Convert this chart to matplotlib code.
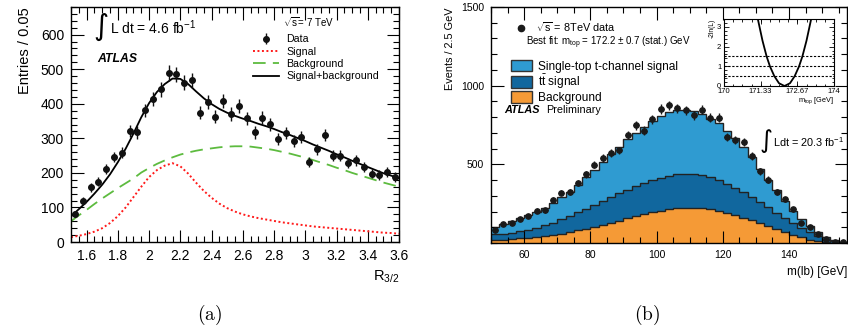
import numpy as np
import matplotlib
matplotlib.use("Agg")
import matplotlib.pyplot as plt
from matplotlib.lines import Line2D
from matplotlib.patches import Patch
from matplotlib.ticker import MultipleLocator

plt.rcParams['font.family'] = ['Liberation Sans', 'DejaVu Sans']
plt.rcParams['mathtext.fontset'] = 'custom'
plt.rcParams['mathtext.rm'] = 'Liberation Sans'
plt.rcParams['mathtext.it'] = 'Liberation Sans:italic'
plt.rcParams['mathtext.bf'] = 'Liberation Sans:bold'

# ---- panel (a): R_3/2 fit ----
r_bins = np.linspace(1.525, 3.575, 42)
r_data = [80, 120, 158, 174, 210, 246, 258, 322, 317, 381, 414, 442, 489, 485,
          461, 468, 374, 404, 362, 409, 370, 393, 358, 317, 360, 341, 298, 316,
          292, 304, 231, 268, 309, 249, 249, 228, 236, 218, 198, 194, 202, 188]

r_curve = np.linspace(1.5, 3.6, 43)
sig_curve = [14, 18, 23, 30, 40, 55, 75, 100, 130, 160, 188, 208, 221, 228, 219,
             198, 172, 148, 128, 111, 98, 88, 80, 74, 69, 65, 61, 57, 54, 51, 48,
             45, 43, 41, 39, 37, 35, 33, 31, 29, 27, 26, 24]
bkg_curve = [60, 77, 93, 110, 126, 141, 156, 170, 184, 201, 214, 226, 236, 245, 253,
             259, 264, 268, 271, 274, 276, 277, 277, 276, 273, 270, 266, 261, 256,
             250, 244, 237, 230, 223, 215, 208, 200, 193, 186, 179, 172, 166, 160]

# ---- panel (b): m(lb) template fit ----
mlb_edges = np.arange(50, 157.6, 2.5)
mlb_data = [82, 119, 126, 151, 170, 205, 208, 274, 320, 323, 380, 436, 497, 540,
            573, 589, 687, 748, 715, 785, 852, 876, 856, 844, 813, 847, 796, 795,
            673, 652, 641, 554, 456, 403, 325, 278, 213, 125, 99, 57, 25, 8, 8]
stack_total = [100, 122, 140, 156, 176, 200, 222, 252, 292, 325, 368, 420, 466, 515,
               565, 612, 660, 700, 740, 775, 810, 835, 845, 848, 840, 818, 790, 760,
               712, 668, 610, 545, 470, 400, 335, 270, 205, 150, 105, 68, 38, 18, 8]
stack_ttbar = [55, 60, 66, 75, 85, 97, 112, 130, 150, 172, 195, 218, 242, 265,
               290, 315, 340, 360, 380, 398, 415, 428, 437, 441, 440, 432, 418, 400,
               378, 352, 325, 295, 262, 228, 192, 158, 125, 95, 68, 42, 22, 10, 4]
stack_bkg = [20, 22, 25, 29, 33, 38, 44, 52, 60, 70, 80, 92, 104, 116,
             129, 142, 156, 170, 183, 195, 206, 215, 221, 224, 224, 220, 213, 203,
             192, 178, 162, 146, 128, 110, 90, 70, 50, 35, 22, 13, 7, 3, 1]

mtop_scan = [171.23, 171.40, 171.55, 171.67, 171.83, 172.0, 172.2, 172.4, 172.57,
             172.73, 172.85, 173.0, 173.17]
nll_scan = [3.4, 2.3, 1.5, 1.0, 0.5, 0.14, 0.0, 0.14, 0.5, 1.0, 1.5, 2.3, 3.4]

c_light = '#2f9bd1'
c_dark = '#11679e'
c_orange = '#f59a36'


def root_ticks(ax, size_major=8, size_minor=4):
    ax.tick_params(which='both', direction='in', top=True, right=True, width=0.8)
    ax.tick_params(which='major', length=size_major)
    ax.tick_params(which='minor', length=size_minor)
    for s in ax.spines.values():
        s.set_linewidth(1.0)


def fx(px):
    return px / 848


def fy(py):
    return 1 - py / 332


fig = plt.figure(figsize=(8.48, 3.32), dpi=100)

# ---------------- (a) ----------------
ax1 = fig.add_axes([fx(71), fy(242), 328 / 848, 235 / 332])
sb = np.array(sig_curve) + np.array(bkg_curve)
ax1.plot(r_curve, sig_curve, color='#ff1a1a', ls=(0, (1, 1.3)), lw=1.4, label='Signal')
ax1.plot(r_curve, bkg_curve, color='#5dbb3f', ls=(0, (7, 4)), lw=1.3, label='Background')
ax1.plot(r_curve, sb, color='black', lw=1.3, label='Signal+background')
ax1.errorbar(r_bins, r_data, yerr=np.sqrt(r_data), fmt='o', color='#111111', ms=4,
             elinewidth=1.0, capsize=0, label='Data')
ax1.set_xlim(1.5, 3.6)
ax1.set_ylim(0, 680)
ax1.xaxis.set_minor_locator(MultipleLocator(0.05))
ax1.yaxis.set_major_locator(MultipleLocator(100))
ax1.yaxis.set_minor_locator(MultipleLocator(20))
ax1.set_xticks([1.6, 1.8, 2, 2.2, 2.4, 2.6, 2.8, 3, 3.2, 3.4, 3.6])
ax1.set_xticklabels(['1.6', '1.8', '2', '2.2', '2.4', '2.6', '2.8', '3', '3.2', '3.4', '3.6'])
root_ticks(ax1, 9, 4.5)
ax1.tick_params(labelsize=10, pad=5)
ax1.set_ylabel('Entries / 0.05', fontsize=10.5, loc='top', labelpad=6)
ax1.set_xlabel('R$_{3/2}$', fontsize=10.5, loc='right', labelpad=4)

fig.text(fx(93), fy(27), '\u222b', fontsize=21, va='center', family='DejaVu Sans')
fig.text(fx(110), fy(28), r'L dt = 4.6 fb$^{-1}$', fontsize=10, va='center')
fig.text(fx(97), fy(59), 'ATLAS', fontsize=8.8, fontweight='bold',
         fontstyle='italic', va='center')
fig.text(fx(283), fy(22), r'$\sqrt{\mathrm{s}}$= 7 TeV', fontsize=7, va='center')

h = ax1.get_legend_handles_labels()
order = [3, 0, 1, 2]
ax1.legend([h[0][i] for i in order], [h[1][i] for i in order], frameon=False,
           fontsize=7.7, loc='upper left', bbox_to_anchor=(fx(248), fy(29)),
           bbox_transform=fig.transFigure, handlelength=2.4, handletextpad=0.7,
           labelspacing=0.22, borderpad=0)

fig.text(fx(210), fy(315), r'$\mathrm{(a)}$', fontsize=14, ha='center',
         va='center', math_fontfamily='cm')

# ---------------- (b) ----------------
ax2 = fig.add_axes([fx(491), fy(243), 356 / 848, 236 / 332])
ax2.stairs(stack_total, mlb_edges, fill=True, color=c_light, lw=0)
ax2.stairs(stack_total, mlb_edges, color='#222222', lw=1.0, baseline=None)
ax2.stairs(stack_ttbar, mlb_edges, fill=True, color=c_dark, lw=0)
ax2.stairs(stack_ttbar, mlb_edges, color='#222222', lw=1.0, baseline=None)
ax2.stairs(stack_bkg, mlb_edges, fill=True, color=c_orange, lw=0)
ax2.stairs(stack_bkg, mlb_edges, color='#222222', lw=1.0, baseline=None)
centers = (mlb_edges[:-1] + mlb_edges[1:]) / 2
ax2.errorbar(centers, mlb_data, yerr=np.sqrt(mlb_data), xerr=0.9, fmt='o',
             color='#1a1a1a', ms=3.8, elinewidth=1.0, capsize=0)
ax2.set_xlim(50, 157.5)
ax2.set_ylim(0, 1500)
ax2.set_xticks([60, 80, 100, 120, 140])
ax2.xaxis.set_minor_locator(MultipleLocator(5))
ax2.set_yticks([500, 1000, 1500])
ax2.yaxis.set_minor_locator(MultipleLocator(100))
root_ticks(ax2, 9, 4.5)
ax2.tick_params(labelsize=7.5, pad=5)
ax2.set_ylabel('Events / 2.5 GeV', fontsize=7.8, loc='top', labelpad=4)
ax2.set_xlabel('m(lb) [GeV]', fontsize=8.5, loc='right', labelpad=4)

leg_d = ax2.legend([Line2D([], [], ls='none', marker='o', color='#1a1a1a', ms=4.5)],
                   [r'$\sqrt{\mathrm{s}}$ = 8TeV data'], frameon=False, fontsize=7.8,
                   loc='upper left', bbox_to_anchor=(fx(508), fy(15)),
                   bbox_transform=fig.transFigure, handlelength=1.4,
                   handletextpad=0.7, borderpad=0)
ax2.add_artist(leg_d)
boxes = [Patch(facecolor=c_light, edgecolor='#333333', lw=1.0),
         Patch(facecolor=c_dark, edgecolor='#333333', lw=1.0),
         Patch(facecolor=c_orange, edgecolor='#333333', lw=1.0)]
ax2.legend(boxes, ['Single-top t-channel signal', r'$\mathrm{t\bar{t}}$ signal',
                   'Background'], frameon=False, fontsize=8.6, loc='upper left',
           bbox_to_anchor=(fx(505), fy(54)), bbox_transform=fig.transFigure,
           handlelength=1.75, handleheight=1.1, handletextpad=0.5, labelspacing=0.0,
           borderpad=0)

fig.text(fx(526), fy(43), r'Best fit: m$_{\mathrm{top}}$ = 172.2 $\pm$ 0.7 (stat.) GeV',
         fontsize=7, va='center')
fig.text(fx(504), fy(110), 'ATLAS', fontsize=7.8, fontweight='bold',
         fontstyle='italic', va='center')
fig.text(fx(546), fy(110), 'Preliminary', fontsize=7.8, va='center')
fig.text(fx(760), fy(141), '\u222b', fontsize=18, va='center', family='DejaVu Sans')
fig.text(fx(773), fy(142), r'Ldt = 20.3 fb$^{-1}$', fontsize=7.8, va='center')
fig.text(fx(647), fy(315), r'$\mathrm{(b)}$', fontsize=14, ha='center',
         va='center', math_fontfamily='cm')

# inset: likelihood scan
axi = fig.add_axes([fx(724), fy(86), 110 / 848, 67 / 332])
for lvl in [0.5, 1.0, 1.5]:
    axi.axhline(lvl, color='black', ls=(0, (2, 1.5)), lw=0.8)
axi.plot(mtop_scan, nll_scan, color='black', lw=1.3)
axi.set_xlim(170, 174)
axi.set_ylim(0, 3.4)
axi.set_xticks([170, 171.33, 172.67, 174])
axi.set_xticklabels(['170', '171.33', '172.67', '174'])
axi.set_yticks([0, 1, 2, 3])
axi.xaxis.set_minor_locator(MultipleLocator(1 / 3))
axi.yaxis.set_minor_locator(MultipleLocator(0.2))
axi.tick_params(which='both', direction='in', top=True, right=True, width=0.6)
axi.tick_params(which='major', length=3.5, labelsize=5.5)
axi.tick_params(axis='x', pad=1.5)
axi.tick_params(axis='y', pad=2)
axi.tick_params(which='minor', length=1.8)
axi.set_ylabel('-2ln(L)', fontsize=4.8, loc='top', labelpad=1)
axi.set_xlabel(r'm$_{\mathrm{top}}$ [GeV]', fontsize=5.3, loc='right', labelpad=0)
for s in axi.spines.values():
    s.set_linewidth(0.8)

fig.savefig('out.png', dpi=100)
